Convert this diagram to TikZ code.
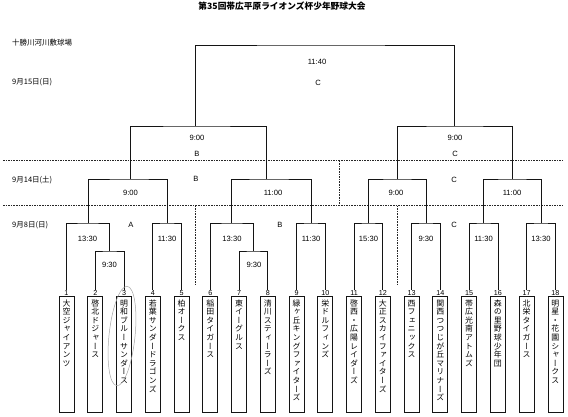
\documentclass[tikz,border=0pt]{standalone}
\usepackage{fontspec}
\setmainfont{Liberation Sans}
\newfontfamily\jp{Noto Sans CJK JP}
\newfontfamily\jpv[RawFeature=+vert]{Noto Sans CJK JP}
\usetikzlibrary{positioning}
\makeatletter
\newcommand\vtext[1]{\vbox{\offinterlineskip\vt@loop#1\@nil}}
\def\vt@loop#1{\ifx\@nil#1\else\hbox to 10pt{\hss\vrule width 0pt height 6.9pt depth 1.7pt\relax#1\hss}\expandafter\vt@loop\fi}
\makeatother
\tikzset{
  br/.style={line width=0.8pt, draw=black!92},
  dsh/.style={line width=0.7pt, draw=black!85, dash pattern=on 1.6pt off 1pt},
  teambox/.style={draw=black!92, line width=0.8pt, anchor=north, minimum width=15pt, minimum height=116pt, inner sep=0pt},
  teamname/.style={anchor=north, inner sep=0pt, font=\jpv\fontsize{7.9}{8.6}\selectfont},
  num/.style={anchor=south, inner sep=0.6pt, fill=white, font=\fontsize{7.2}{8}\selectfont},
  tm/.style={font=\fontsize{7.6}{9}\selectfont, inner sep=0pt},
  lbl/.style={font=\fontsize{7.6}{9}\selectfont, inner sep=0pt},
  jtxt/.style={font=\jp\fontsize{7.5}{9}\selectfont, inner sep=0pt, anchor=west}
}
\begin{document}
\begin{tikzpicture}[x=1pt,y=-1pt]
\useasboundingbox (0,0) rectangle (568,417);
\fill[white] (0,0) rectangle (568,417);

% title and side texts
\node[font=\jp\bfseries\fontsize{8.7}{10}\selectfont, inner sep=0pt] (title) at (282,6) {第35回帯広平原ライオンズ杯少年野球大会};
\node[jtxt] (venue) at (12,43) {十勝川河川敷球場};
\node[jtxt] (d15) at (12,82) {9月15日(日)};
\node[jtxt] (d14) at (12,180) {9月14日(土)};
\node[jtxt] (d8) at (12,225) {9月8日(日)};

% dashed separators
\coordinate (h1a) at (3,160.7); \coordinate (h1b) at (563,160.7);
\coordinate (h2a) at (3,205.7); \coordinate (h2b) at (563,205.7);
\draw[dsh] (h1a) -- (h1b);
\draw[dsh] (h2a) -- (h2b);
\coordinate (v1a) at (195,205.7); \coordinate (v1b) at (195,285);
\coordinate (v2a) at (397,205.7); \coordinate (v2b) at (397,284);
\coordinate (v3a) at (339,160.7); \coordinate (v3b) at (339,205.7);
\draw[dsh] (v1a) -- (v1b);
\draw[dsh] (v2a) -- (v2b);
\draw[dsh] (v3a) -- (v3b);

% teams
\foreach \i/\n in {1/大空ジャイアンツ,2/啓北ドジャース,3/明和ブルーサンダース,4/若葉サンダードラゴンズ,5/柏オークス,6/稲田タイガース,7/東イーグルス,8/清川スティーラーズ,9/緑ヶ丘キングファイターズ,10/栄ドルフィンズ,11/啓西・広陽レイダーズ,12/大正スカイファイターズ,13/西フェニックス,14/関西つつじが丘マリナーズ,15/帯広光南アトムズ,16/森の里野球少年団,17/北栄タイガース,18/明星・花園シャークス}{
  \pgfmathsetmacro\cx{66.5+28.76*(\i-1)}
  \node[teambox] (t\i) at (\cx,296) {};
  \node[teamname] (n\i) at ([yshift=-3pt]t\i.north) {\expandafter\vtext\expandafter{\n}};
}

% match points
\coordinate (m1) at (109.64,251);
\coordinate (m2) at (88.07,223);
\coordinate (m3) at (167.16,223);
\coordinate (m4) at (130.5,179);
\coordinate (m5) at (253.44,251);
\coordinate (m6) at (231.87,223);
\coordinate (m7) at (310.96,223);
\coordinate (m8) at (266.7,179);
\coordinate (m9) at (195,126);
\coordinate (m10) at (368.48,223);
\coordinate (m11) at (426,223);
\coordinate (m12) at (483.52,223);
\coordinate (m13) at (541.04,223);
\coordinate (m14) at (397.24,179);
\coordinate (m15) at (512.28,179);
\coordinate (m16) at (454.76,126);
\coordinate (m17) at (317,45);

% bracket lines
\draw[br] (t2.north) |- (m1) -| (t3.north);
\draw[br] (t1.north) |- (m2) -| (m1);
\draw[br] (t4.north) |- (m3) -| (t5.north);
\draw[br] (m2) |- (m4) -| (m3);
\draw[br] (t7.north) |- (m5) -| (t8.north);
\draw[br] (t6.north) |- (m6) -| (m5);
\draw[br] (t9.north) |- (m7) -| (t10.north);
\draw[br] (m6) |- (m8) -| (m7);
\draw[br] (m4) |- (m9) -| (m8);
\draw[br] (t11.north) |- (m10) -| (t12.north);
\draw[br] (t13.north) |- (m11) -| (t14.north);
\draw[br] (t15.north) |- (m12) -| (t16.north);
\draw[br] (t17.north) |- (m13) -| (t18.north);
\draw[br] (m10) |- (m14) -| (m11);
\draw[br] (m12) |- (m15) -| (m13);
\draw[br] (m14) |- (m16) -| (m15);
\draw[br] (m9) |- (m17) -| (m16);

% team numbers
\foreach \i in {1,...,18}{
  \node[num] (k\i) at (t\i.north) {\i};
}

% times and field labels
\node[tm] (s17) at (317,62) {11:40};
\node[lbl] (f17) at (318,83) {C};
\node[tm] (s9) at (197,138) {9:00};
\node[lbl] (f9) at (197,154) {B};
\node[tm] (s16) at (455,138) {9:00};
\node[lbl] (f16) at (455,154) {C};
\node[lbl] (f14row) at (196,179) {B};
\node[lbl] (f14rowc) at (454,180) {C};
\node[tm] (s4) at (130.5,193) {9:00};
\node[tm] (s8) at (273,193) {11:00};
\node[tm] (s14) at (396,193) {9:00};
\node[tm] (s15) at (512,193) {11:00};
\node[lbl] (fA) at (131,225) {A};
\node[lbl] (fB) at (280,225) {B};
\node[lbl] (fC) at (454,225) {C};
\node[tm] (s2) at (87.5,239) {13:30};
\node[tm] (s1) at (109.5,265) {9:30};
\node[tm] (s3) at (167,239) {11:30};
\node[tm] (s6) at (232,239) {13:30};
\node[tm] (s5) at (254,265) {9:30};
\node[tm] (s7) at (311,239) {11:30};
\node[tm] (s10) at (368.5,239) {15:30};
\node[tm] (s11) at (426,239) {9:30};
\node[tm] (s12) at (483.5,239) {11:30};
\node[tm] (s13) at (541,239) {13:30};

% hand-drawn circle around team 3
\draw[black!35, line width=0.5pt, rotate around={-6:(122,336)}] (122,336) ellipse [x radius=13, y radius=50];
\end{tikzpicture}
\end{document}
